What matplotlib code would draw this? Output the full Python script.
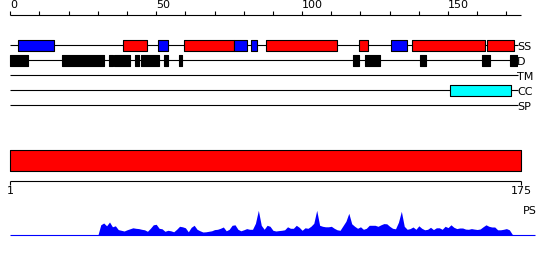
import numpy as np
import matplotlib
matplotlib.use("Agg")
import matplotlib.pyplot as plt

# sequence length and top ruler
seq_len = 175
ruler_ticks = list(range(0, 171, 10))
ruler_labels = [0, 50, 100, 150]

# secondary structure segments (start, end, colour)
ss_segments = [
    (2.7, 14.9, "blue"), (38.7, 46.7, "red"), (50.7, 53.9, "blue"),
    (59.6, 76.7, "red"), (76.7, 81.0, "blue"), (82.4, 84.7, "blue"),
    (87.6, 111.8, "red"), (119.5, 122.7, "red"), (130.4, 135.8, "blue"),
    (137.7, 162.8, "red"), (163.3, 172.7, "red"),
]
# disorder segments
d_segments = [
    (0.0, 6.0), (17.8, 32.0), (33.8, 35.2), (35.5, 40.9), (42.7, 44.1),
    (44.8, 50.9), (52.6, 53.9), (57.8, 58.7), (117.4, 119.6),
    (121.5, 126.8), (140.3, 142.6), (161.5, 164.5), (171.2, 173.6),
]
tm_segments = []
cc_segments = [(150.7, 171.6)]
sp_segments = []

track_names = ["SS", "D", "TM", "CC", "SP"]

# profile (PS) per residue, starting at residue 30
ps_start = 30
ps_values = [
    0, 10.5, 12.3, 9.5, 13.3, 8.5, 9.5, 5.7, 5, 4.3,
    5.5, 6.5, 7.5, 7, 6.7, 6, 5.5, 4, 7, 10.5,
    11, 7, 6.5, 4, 5, 4.5, 3.5, 6, 9, 8.5,
    7.5, 3.5, 8, 10, 6, 4.5, 3.3, 3.5, 4, 4.5,
    5.7, 6, 7, 8.3, 4.5, 6, 10, 10.5, 6, 4.5,
    5.5, 6.7, 6, 6, 12, 25, 10, 6, 10, 9,
    5, 4.3, 4.7, 5, 5.5, 8.5, 7, 7, 10, 8,
    5, 7.5, 7, 9, 12, 25, 10, 9, 8.5, 8.5,
    9, 7, 5.5, 5, 9.5, 14, 22, 11.5, 9, 7,
    8.5, 6, 7, 10, 10, 10, 9, 10.5, 11.7, 11.5,
    9, 7, 6.5, 13, 24, 9, 6, 6.7, 8.3, 6,
    9.5, 7, 5.5, 6, 8, 5.7, 7.5, 7.5, 6, 9,
    7.7, 10.5, 8, 6.7, 7.3, 7.3, 6.2, 6, 6.7, 6.2,
    5.8, 6.3, 8.5, 10.5, 9, 8.3, 8.3, 5.5, 5.5, 6,
    6.7, 5.5, 1, 0,
]

W, H = 550, 260
x0_px = 10.3
scale = (521.0 - x0_px) / seq_len  # px per residue
xlim = (-x0_px / scale, (W - x0_px) / scale)

fig = plt.figure(figsize=(W / 100, H / 100), dpi=100)
ax = fig.add_axes([0, 0, 1, 1])
ax.set_xlim(*xlim)
ax.set_ylim(H, 0)
ax.axis("off")

fs = 8
lw = 0.8

# top ruler
ruler_y = 14.7
ax.hlines(ruler_y, 0, seq_len, color="black", lw=lw)
ax.vlines(ruler_ticks, ruler_y - 4, ruler_y, color="black", lw=lw)
for t in ruler_labels:
    ax.text(t, ruler_y - 4.5, str(t), fontsize=fs, ha="left", va="bottom")

# feature tracks
track_y = [45.3, 60.3, 75.3, 90.3, 105.3]
box_h = 10.7
track_data = [
    [(s, e, c) for s, e, c in ss_segments],
    [(s, e, "black") for s, e in d_segments],
    [(s, e, "black") for s, e in tm_segments],
    [(s, e, "cyan") for s, e in cc_segments],
    [(s, e, "black") for s, e in sp_segments],
]
line_end = 173.9
for name, y, segs in zip(track_names, track_y, track_data):
    ax.hlines(y, 0, line_end, color="black", lw=lw, zorder=1)
    for s, e, c in segs:
        ax.broken_barh([(s, e - s)], (y - box_h / 2, box_h), facecolors=c,
                       edgecolors="black", linewidth=lw, zorder=2)
    ax.text(line_end - 0.2, y + 1.5, name, fontsize=fs, ha="left", va="center")

# full-length bar
ax.broken_barh([(0, seq_len)], (150, 20.7), facecolors="red",
               edgecolors="black", linewidth=lw)

# bottom ruler
bot_y = 180.7
ax.hlines(bot_y, 0, seq_len, color="black", lw=lw)
ax.vlines([0, seq_len], bot_y, bot_y + 4, color="black", lw=lw)
ax.text(0, bot_y + 5, "1", fontsize=fs, ha="center", va="top")
ax.text(seq_len, bot_y + 5, str(seq_len), fontsize=fs, ha="center", va="top")
ax.text(seq_len + 0.6, 211.5, "PS", fontsize=fs, ha="left", va="center")

# profile axes (a little margin below the baseline so it is not clipped)
base_px, top_px, pad = 235.3, 210.0, 3.0
pax = fig.add_axes([0, (H - base_px - pad) / H, 1, (base_px + pad - top_px) / H])
pax.set_xlim(*xlim)
pax.set_ylim(-pad, base_px - top_px)
pax.axis("off")
res = np.arange(ps_start, ps_start + len(ps_values))
pax.fill_between(res, 0, ps_values, color="blue", lw=0)
pax.hlines(0, 0, 179.8, color="blue", lw=lw)

fig.savefig("out.png", dpi=100)
